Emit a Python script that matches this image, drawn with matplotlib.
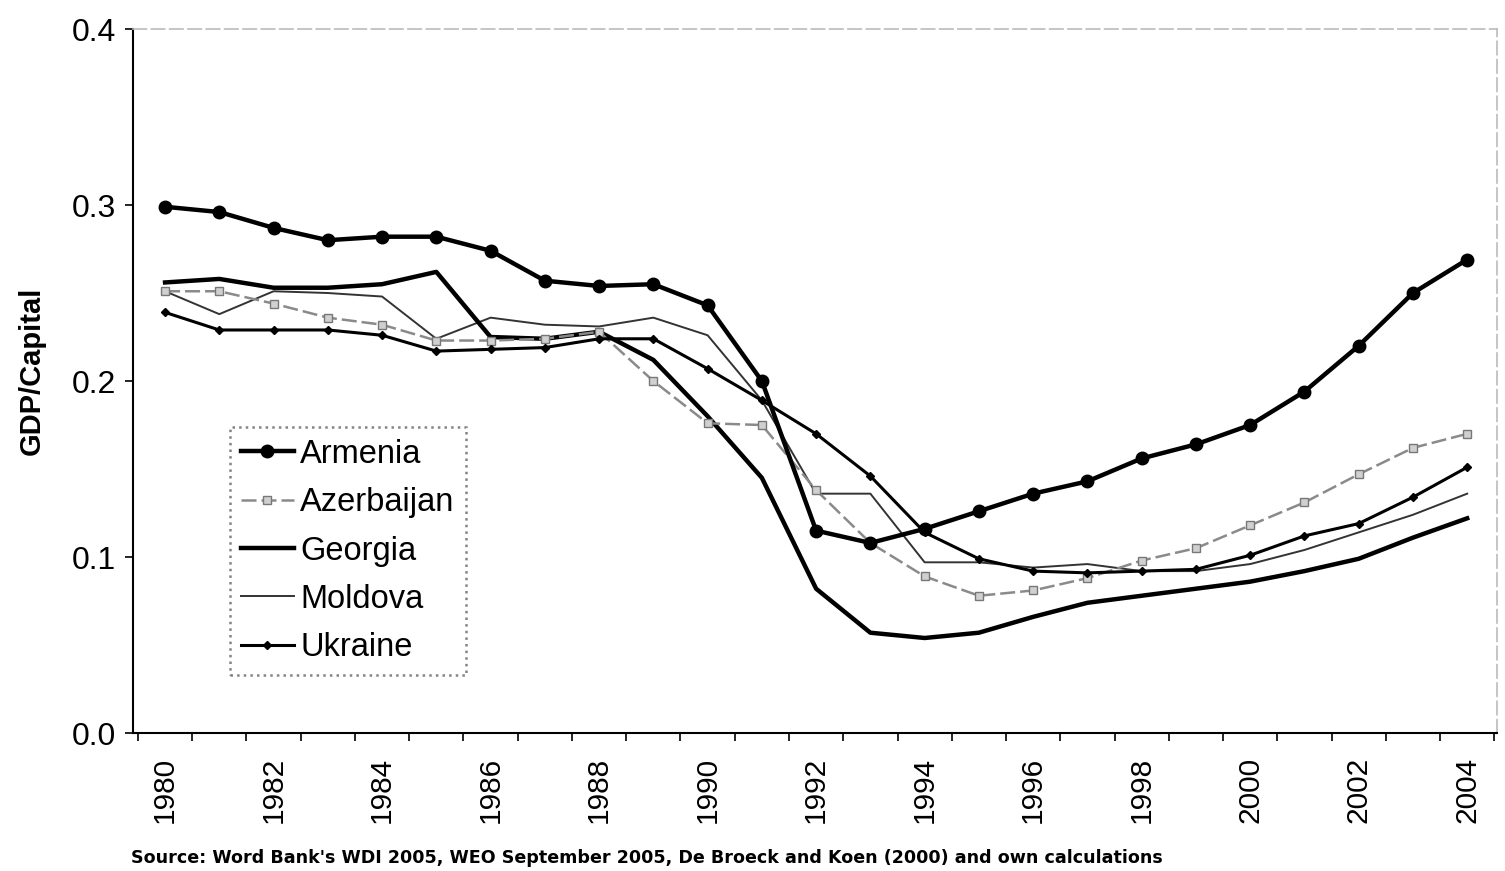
import numpy as np
import matplotlib
matplotlib.use("Agg")
import matplotlib.pyplot as plt

plt.rcParams['font.family'] = ['Liberation Sans', 'DejaVu Sans']

years = list(range(1980, 2005))

armenia = [0.299, 0.296, 0.287, 0.280, 0.282, 0.282, 0.274, 0.257, 0.254, 0.255,
           0.243, 0.200, 0.115, 0.108, 0.116, 0.126, 0.136, 0.143, 0.156, 0.164,
           0.175, 0.194, 0.220, 0.250, 0.269]
azerbaijan = [0.251, 0.251, 0.244, 0.236, 0.232, 0.223, 0.223, 0.224, 0.228, 0.200,
              0.176, 0.175, 0.138, 0.108, 0.089, 0.078, 0.081, 0.088, 0.098, 0.105,
              0.118, 0.131, 0.147, 0.162, 0.170]
georgia = [0.256, 0.258, 0.253, 0.253, 0.255, 0.262, 0.225, 0.224, 0.228, 0.212,
           0.180, 0.145, 0.082, 0.057, 0.054, 0.057, 0.066, 0.074, 0.078, 0.082,
           0.086, 0.092, 0.099, 0.111, 0.122]
moldova = [0.251, 0.238, 0.251, 0.250, 0.248, 0.224, 0.236, 0.232, 0.231, 0.236,
           0.226, 0.189, 0.136, 0.136, 0.097, 0.097, 0.094, 0.096, 0.092, 0.092,
           0.096, 0.104, 0.114, 0.124, 0.136]
ukraine = [0.239, 0.229, 0.229, 0.229, 0.226, 0.217, 0.218, 0.219, 0.224, 0.224,
           0.207, 0.189, 0.170, 0.146, 0.114, 0.099, 0.092, 0.091, 0.092, 0.093,
           0.101, 0.112, 0.119, 0.134, 0.151]

fig = plt.figure(figsize=(15.05, 8.71), dpi=100)
ax = fig.add_axes([0.0884, 0.1584, 0.9063, 0.8083])

x = np.arange(len(years))
ax.plot(x, armenia, color='black', lw=3.2, marker='o', ms=9, label='Armenia', zorder=5)
ax.plot(x, azerbaijan, color='#8a8a8a', lw=1.8, ls=(0, (6, 2)), marker='s', ms=6,
        mfc='#d0d0d0', mec='#777777', label='Azerbaijan', zorder=4)
ax.plot(x, georgia, color='black', lw=3.2, label='Georgia', zorder=3)
ax.plot(x, moldova, color='#333333', lw=1.4, label='Moldova', zorder=2)
ax.plot(x, ukraine, color='black', lw=2.2, marker='D', ms=4.5, label='Ukraine', zorder=4)

ax.set_xlim(-0.59, len(years) - 1 + 0.55)
ax.set_ylim(0.0, 0.4)
ax.set_yticks([0.0, 0.1, 0.2, 0.3, 0.4])
ax.set_yticklabels(['0.0', '0.1', '0.2', '0.3', '0.4'], fontsize=23)
ax.set_xticks(x[::2])
ax.set_xticklabels([str(y) for y in years[::2]], rotation=90, fontsize=21.5)
ax.set_xticks(np.arange(-0.5, len(years), 1), minor=True)
ax.tick_params(axis='x', which='major', length=0, pad=17)
ax.tick_params(axis='x', which='minor', length=6, width=1.2, direction='out')
ax.tick_params(axis='y', length=6, width=1.2, direction='out', pad=6)

ax.set_ylabel('GDP/Capital', fontsize=21, fontweight='bold')
ax.yaxis.set_label_coords(-0.064, 0.515)

for s in ['top', 'right']:
    ax.spines[s].set_color('#bbbbbb')
    ax.spines[s].set_linestyle((0, (8, 3)))
    ax.spines[s].set_linewidth(1.2)
for s in ['left', 'bottom']:
    ax.spines[s].set_linewidth(1.5)

leg = ax.legend(loc='upper left', bbox_to_anchor=(0.071, 0.434), fontsize=23.5,
                frameon=True, fancybox=False, handlelength=1.6, handletextpad=0.2,
                labelspacing=0.53, borderpad=0.35, borderaxespad=0)
leg.get_frame().set_edgecolor('#666666')
leg.get_frame().set_linestyle(':')
leg.get_frame().set_linewidth(1.8)

fig.text(0.087, 0.009,
         "Source: Word Bank's WDI 2005, WEO September 2005, De Broeck and Koen (2000) and own calculations",
         fontsize=12.6, fontweight='bold', family='DejaVu Sans')

fig.savefig('out.png', dpi=100)
